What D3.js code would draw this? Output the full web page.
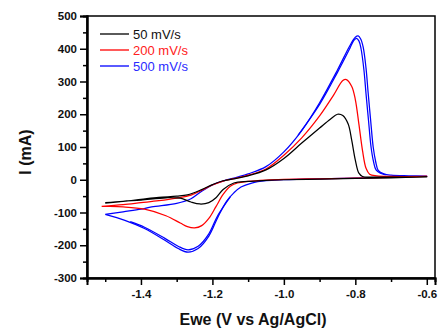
<!DOCTYPE html>
<html>
<head>
<meta charset="utf-8">
<script src="https://cdn.jsdelivr.net/npm/d3@7"></script>
<style>
  body { margin: 0; background: #fff; }
  text { font-family: "Liberation Sans", Arial, sans-serif; }
</style>
</head>
<body>
<div id="chart"></div>
<script>
// scan rate labels
const scanRates = ["50 mV/s", "200 mV/s", "500 mV/s"];

// [potential V, current mA] - anodic sweep (left -> right) then cathodic sweep (right -> left)
const cv50Fwd = [[-1.5,-70],[-1.45,-66],[-1.4,-60],[-1.35,-54],[-1.3,-50],[-1.27,-46],[-1.23,-30],[-1.2,-15],[-1.17,-3],[-1.13,5],[-1.1,12],[-1.05,30],[-1.0,65],[-0.95,112],[-0.9,158],[-0.87,185],[-0.85,200],[-0.835,196],[-0.82,170],[-0.81,120],[-0.8,60],[-0.79,20],[-0.78,10],[-0.75,8],[-0.7,8],[-0.65,8],[-0.6,9]];
const cv50Rev = [[-0.6,9],[-0.7,6],[-0.8,4],[-0.9,2],[-1.0,0],[-1.05,-2],[-1.1,-5],[-1.14,-10],[-1.17,-30],[-1.19,-55],[-1.21,-70],[-1.235,-74],[-1.26,-68],[-1.29,-56],[-1.33,-55],[-1.4,-62],[-1.45,-66],[-1.5,-71]];

const cv200Fwd = [[-1.51,-81],[-1.45,-76],[-1.4,-70],[-1.35,-64],[-1.3,-56],[-1.26,-47],[-1.23,-32],[-1.2,-16],[-1.17,-4],[-1.13,6],[-1.1,14],[-1.05,33],[-1.0,75],[-0.95,128],[-0.9,195],[-0.86,260],[-0.835,303],[-0.825,306],[-0.81,285],[-0.8,245],[-0.79,170],[-0.78,90],[-0.77,35],[-0.76,17],[-0.74,12],[-0.7,10],[-0.6,10]];
const cv200Rev = [[-0.6,10],[-0.7,7],[-0.8,5],[-0.9,3],[-1.0,1],[-1.05,-1],[-1.1,-5],[-1.13,-10],[-1.15,-20],[-1.17,-45],[-1.19,-82],[-1.21,-118],[-1.23,-140],[-1.25,-147],[-1.27,-143],[-1.29,-132],[-1.33,-110],[-1.39,-90],[-1.45,-83],[-1.51,-81]];

const cv500Fwd = [[-1.5,-106],[-1.45,-98],[-1.4,-90],[-1.37,-83],[-1.3,-72],[-1.26,-58],[-1.23,-35],[-1.2,-16],[-1.17,-4],[-1.13,8],[-1.1,18],[-1.05,40],[-1.0,85],[-0.95,150],[-0.9,235],[-0.85,335],[-0.815,410],[-0.8,435],[-0.792,439],[-0.785,430],[-0.778,405],[-0.77,340],[-0.764,264],[-0.757,180],[-0.75,100],[-0.743,55],[-0.736,29],[-0.72,18],[-0.7,14],[-0.65,12],[-0.6,11]];
const cv500Rev = [[-0.6,11],[-0.7,8],[-0.8,5],[-0.9,3],[-1.0,0],[-1.05,-3],[-1.09,-10],[-1.12,-22],[-1.14,-40],[-1.16,-65],[-1.185,-115],[-1.21,-172],[-1.24,-210],[-1.268,-221],[-1.296,-210],[-1.333,-185],[-1.39,-149],[-1.445,-124],[-1.5,-106]];

// 500 mV/s second cycle, only the parts where it splits from the first one
const cv500Fwd2 = [[-0.96,136],[-0.9,230],[-0.85,328],[-0.815,402],[-0.805,424],[-0.797,432],[-0.79,424],[-0.784,400],[-0.776,336],[-0.77,262],[-0.763,180],[-0.756,100],[-0.749,55],[-0.742,30],[-0.73,20],[-0.715,15]];
const cv500Rev2 = [[-1.15,-52],[-1.185,-109],[-1.21,-165],[-1.24,-203],[-1.268,-214],[-1.296,-203],[-1.333,-179],[-1.39,-145],[-1.43,-128]];

const xTicks = [-1.4, -1.2, -1.0, -0.8, -0.6];
const xMinor = [-1.5, -1.3, -1.1, -0.9, -0.7];
const yTicks = [-300, -200, -100, 0, 100, 200, 300, 400, 500];
const yMinor = [-250, -150, -50, 50, 150, 250, 350, 450];

const W = 445, H = 331;
const M = { LEFT: 87, RIGHT: 10, TOP: 16, BOTTOM: 53 };
const iw = W - M.LEFT - M.RIGHT;
const ih = H - M.TOP - M.BOTTOM;

const series = [
  { name: scanRates[0], color: "#000000", text: "#111111", traces: [cv50Fwd.concat(cv50Rev)] },
  { name: scanRates[1], color: "#ff0000", text: "#ff2020", traces: [cv200Fwd.concat(cv200Rev)] },
  { name: scanRates[2], color: "#0000ff", text: "#2a2aff", traces: [cv500Fwd.concat(cv500Rev), cv500Fwd2, cv500Rev2] }
];

const svg = d3.select("#chart").append("svg")
  .attr("width", W).attr("height", H);

const g = svg.append("g").attr("transform", `translate(${M.LEFT},${M.TOP})`);

const x = d3.scaleLinear().domain([-1.551, -0.577]).range([0, iw]);
const y = d3.scaleLinear().domain([-300, 500]).range([ih, 0]);

const line = d3.line()
  .x(d => x(d[0]))
  .y(d => y(d[1]))
  .curve(d3.curveCatmullRom.alpha(0.5));

// blue under red under black
[series[2], series[1], series[0]].forEach(s => {
  s.traces.forEach(t => {
    g.append("path").attr("d", line(t))
      .attr("fill", "none").attr("stroke", s.color)
      .attr("stroke-width", 1.25).attr("stroke-linejoin", "round");
  });
});

// frame
g.append("rect").attr("x", 0).attr("y", 0).attr("width", iw).attr("height", ih)
  .attr("fill", "none").attr("stroke", "#000").attr("stroke-width", 1.5);

// axes
g.append("g").attr("transform", `translate(0,${ih})`)
  .call(d3.axisBottom(x).tickValues(xTicks).tickSize(7).tickPadding(5).tickFormat(d => d.toFixed(1)));
g.append("g").attr("transform", `translate(0,${ih})`)
  .call(d3.axisBottom(x).tickValues(xMinor).tickSize(4).tickFormat(""));

g.append("g")
  .call(d3.axisLeft(y).tickValues(yTicks).tickSize(7).tickPadding(3).tickFormat(d => String(d)));
g.append("g")
  .call(d3.axisLeft(y).tickValues(yMinor).tickSize(4).tickFormat(""));

g.selectAll(".domain").attr("stroke-width", 2).attr("stroke", "#000");
g.selectAll(".tick line").attr("stroke-width", 1.5).attr("stroke", "#000");
g.selectAll(".tick text")
  .attr("font-size", "11.5px")
  .attr("font-weight", "bold")
  .attr("font-family", "'DejaVu Sans', sans-serif")
  .attr("fill", "#111");

// axis titles
svg.append("text")
  .attr("x", M.LEFT + iw / 2 - 8).attr("y", 325)
  .attr("text-anchor", "middle")
  .attr("font-size", "16px").attr("font-weight", "bold").attr("fill", "#111")
  .text("Ewe (V vs Ag/AgCl)");

svg.append("text")
  .attr("transform", `translate(31,${M.TOP + 136}) rotate(-90)`)
  .attr("text-anchor", "middle")
  .attr("font-size", "16px").attr("font-weight", "bold").attr("fill", "#111")
  .text("I (mA)");

// legend
const leg = svg.append("g");
series.forEach((s, i) => {
  const ly = 34 + i * 16;
  leg.append("line")
    .attr("x1", 100).attr("x2", 129).attr("y1", ly).attr("y2", ly)
    .attr("stroke", s.color).attr("stroke-width", 1.3);
  leg.append("text")
    .attr("x", 133).attr("y", ly + 4.5)
    .attr("font-size", "13px").attr("fill", s.text)
    .text(s.name);
});
</script>
</body>
</html>
